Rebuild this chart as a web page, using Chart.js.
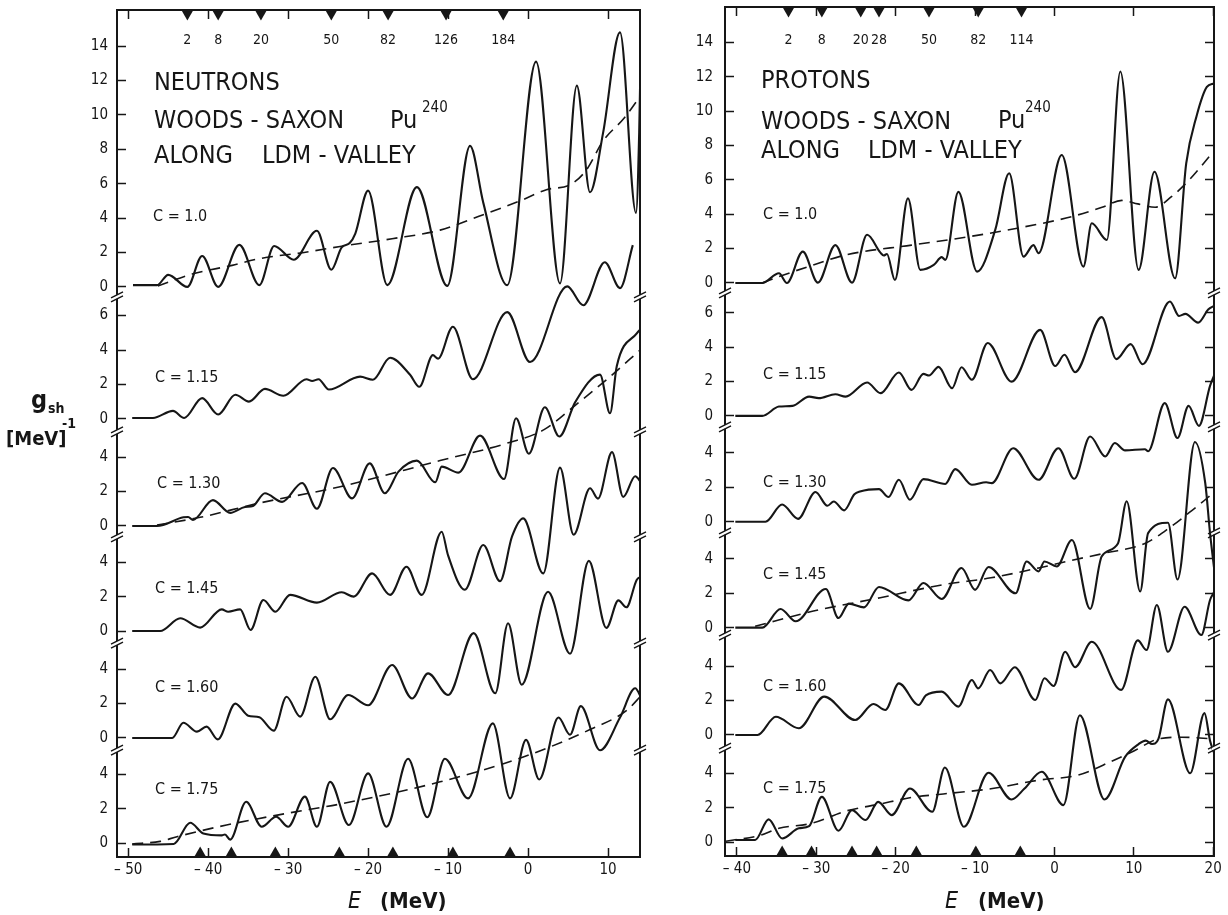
<!DOCTYPE html>
<html>
<head>
<meta charset="utf-8">
<script src="https://cdn.jsdelivr.net/npm/chart.js@4.4.1/dist/chart.umd.min.js"></script>
<style>
  html, body { margin: 0; padding: 0; background: #fff; }
  #wrap { position: relative; width: 1228px; height: 915px; overflow: hidden; }
  .panel { position: absolute; top: 0; }
  #left { left: 0; }
  #right { left: 660px; }
</style>
</head>
<body>
<div id="wrap">
  <div class="panel" id="left"><canvas id="neutronChart" width="660" height="915"></canvas></div>
  <div class="panel" id="right"><canvas id="protonChart" width="568" height="915"></canvas></div>
</div>
<script>
const ink = '#161616';
const FONT = '"DejaVu Sans Condensed", "DejaVu Sans", sans-serif';

// tick values of the g_sh axis blocks
const gTicksTop = [0, 2, 4, 6, 8, 10, 12, 14];
const gTicks115 = [0, 2, 4, 6];
const gTicksLow = [0, 2, 4];

// ---------- neutrons ----------
const nTicksE = [-50, -40, -30, -20, -10, 0, 10];
const nMagic = ['2', '8', '20', '50', '82', '126', '184'];
const nMagicTopE = [-42.6, -38.75, -33.4, -24.6, -17.5, -10.25, -3.1];
const nMagicBotE = [-41, -37.1, -31.6, -23.6, -16.9, -9.4, -2.25];

// [E (MeV), g_sh]
const n100 = [[-49.4,0.1],[-46.4,0.1],[-45,0.7],[-42.6,0],[-40.75,1.8],[-38.75,0],[-36.1,2.44],[-33.6,0.1],
  [-31.75,2.38],[-29.3,1.58],[-26.4,3.26],[-24.6,1.0],[-23.3,2.3],[-22.3,2.55],[-21.6,3.1],[-20,5.6],[-17.6,0.1],
  [-13.9,5.8],[-10.1,0.06],[-7.25,8.2],[-5.6,4.9],[-2.6,0.1],[1.0,13.1],[4,0.2],[6.1,11.7],[7.75,5.5],[9.4,9.0],
  [11.5,14.8],[13.5,4.3],[13.9,9],[14.2,16.5]];
const n100dash = [[-46.3,0.05],[-42,0.75],[-37,1.25],[-33.5,1.65],[-28,2.0],[-23.5,2.35],[-17,2.8],[-11,3.3],
  [-5.6,4.2],[-1,5.0],[2.3,5.65],[5.3,5.95],[7.3,6.8],[9.4,8.5],[12,9.8],[14.2,11.2]];
const n115 = [[-49.5,0.05],[-46.9,0.05],[-44.4,0.46],[-43,0.05],[-40.75,1.2],[-38.75,0.25],[-36.6,1.4],[-34.9,1.0],
  [-32.9,1.74],[-30.6,1.34],[-27.7,2.3],[-27.0,2.2],[-26.2,2.3],[-24.9,1.7],[-21,2.45],[-19.4,2.27],[-17.25,3.55],
  [-14.75,2.56],[-13.6,1.86],[-11.9,3.7],[-11.25,3.5],[-9.4,5.35],[-6.9,2.3],[-2.6,6.2],[0.25,3.3],[4.9,7.7],
  [6.9,6.6],[9.6,9.1],[11.5,7.6],[13.1,10.1]];
const n130 = [[-49.5,0],[-46.4,0],[-43.1,0.5],[-42.5,0.52],[-41.9,0.35],[-39.4,1.5],[-37.25,0.76],[-35.4,1.1],
  [-34.4,1.16],[-32.9,1.9],[-30.75,1.4],[-28.25,2.5],[-26.4,1.0],[-24.4,3.37],[-22,1.6],[-19.8,3.64],[-17.9,1.9],
  [-16.2,3.16],[-13.9,3.8],[-11.6,2.54],[-10.8,3.45],[-8.7,3.1],[-6.0,5.25],[-3.0,2.73],[-1.5,6.26],[0.1,4.2],
  [2.1,6.9],[3.9,5.2],[5.9,7.2],[9.0,8.8],[10.25,6.55],[11.1,9.3],[13.6,11.2],[14.2,11.5]];
const n130dash = [[-46.4,0.05],[-41,0.5],[-33.5,1.34],[-23.5,2.28],[-11,3.8],[-2.7,4.8],[2,5.6],[5.6,6.9],
  [9.8,8.5],[14.2,10.3]];
const n145 = [[-49.5,0],[-46,0],[-43.5,0.74],[-41,0.2],[-38.3,1.26],[-37.5,1.12],[-36,1.26],[-34.7,0.06],[-33.1,1.8],
  [-31.6,1.12],[-29.75,2.1],[-26.4,1.65],[-23.3,2.25],[-21.8,2.0],[-19.5,3.35],[-17.25,2.1],[-15.2,3.74],[-13.3,2.1],
  [-10.8,5.77],[-10,4.4],[-7.9,2.4],[-5.6,5.0],[-3.5,2.9],[-2,5.5],[-0.6,6.55],[1.9,3.35],[4,9.5],[5.7,5.6],
  [7.75,8.3],[8.75,7.7],[10.5,10.4],[11.9,7.8],[13.4,9.0],[14.2,8.6]];
const n160 = [[-49.5,0],[-44.5,0],[-43.1,0.89],[-41.4,0.37],[-40.2,0.66],[-38.8,-0.08],[-36.6,2.0],[-35.0,1.3],
  [-33.6,1.2],[-31.8,0.43],[-30.2,2.4],[-28.5,1.24],[-26.6,3.56],[-24.75,1.09],[-22.5,2.5],[-20,1.9],[-17,4.24],
  [-14.5,2.3],[-12.5,3.76],[-10,2.5],[-6.8,6.1],[-4.1,2.6],[-2.5,6.67],[-0.8,3.1],[2.5,8.5],[5.25,4.9],[7.6,10.3],
  [9.8,6.4],[11.3,8.0],[12.3,7.6],[13.6,9.2],[14.2,9.4]];
const n175 = [[-49.5,-0.08],[-44.3,-0.05],[-42.25,1.18],[-40.6,0.56],[-38.3,0.45],[-37.9,0.5],[-37.25,0.2],
  [-35.25,2.4],[-33.3,0.95],[-31.5,1.53],[-30,0.95],[-27.9,2.7],[-26.4,0.95],[-24.75,3.56],[-22.4,1.05],[-20,4.05],
  [-17.7,0.95],[-15,4.9],[-12.6,1.5],[-10.4,4.9],[-7.5,2.6],[-4.4,6.96],[-2.25,2.6],[-0.25,6.0],[1.4,3.7],[3.8,7.3],
  [5.25,6.3],[6.6,7.96],[9,5.4],[11.5,7.3],[13.4,9.0],[14.2,8.4]];
const n175dash = [[-49.5,-0.05],[-46,0.1],[-43.9,0.37],[-37.7,1.05],[-29.3,1.8],[-23.5,2.27],[-11,3.56],[-0.6,5.0],
  [7.75,6.6],[12.3,7.7],[14.2,8.6]];

// ---------- protons ----------
const pTicksE = [-40, -30, -20, -10, 0, 10, 20];
const pMagic = ['2', '8', '20', '28', '50', '82', '114'];
const pMagicTopE = [-33.5, -29.3, -24.4, -22.1, -15.8, -9.6, -4.15];
const pMagicBotE = [-34.3, -30.6, -25.5, -22.4, -17.4, -9.9, -4.3];

const p100 = [[-40.2,0],[-36.8,0],[-34.7,0.56],[-33.7,0],[-31.7,1.82],[-29.8,0.02],[-27.6,2.2],[-25.5,0.02],
  [-23.6,2.8],[-21.9,1.75],[-21.5,1.6],[-21.1,1.68],[-20.1,0.17],[-18.45,4.92],[-16.9,0.76],[-15.2,1.05],[-14.2,1.5],
  [-13.75,1.34],[-12.1,5.3],[-9.75,0.66],[-7.45,3.1],[-5.7,6.38],[-3.9,1.53],[-2.64,2.2],[-2.0,1.73],[0.92,7.44],
  [3.65,0.95],[4.7,3.47],[6.6,2.5],[8.3,12.3],[10.6,0.76],[12.6,6.47],[15.2,0.27],[16.6,6.96],[17.9,9.7],
  [19.2,11.4],[20.1,11.6]];
const p100dash = [[-36.8,0],[-34.7,0.37],[-30,1.1],[-26.3,1.63],[-18,2.2],[-12,2.6],[-4.5,3.2],[2.2,3.86],[6,4.4],
  [8.5,4.8],[10.5,4.6],[12.7,4.4],[14.7,5.0],[17,6.0],[19.4,7.3],[20.1,7.7]];
const p115 = [[-40.2,0],[-36.8,0],[-34.7,0.54],[-33,0.58],[-30.9,1.12],[-29.7,1.03],[-27.6,1.26],[-26.3,1.12],
  [-23.6,1.94],[-21.9,1.32],[-19.6,2.52],[-18,1.51],[-16.5,2.44],[-15.8,2.35],[-14.6,2.85],[-12.9,1.61],[-11.7,2.83],
  [-10.4,2.1],[-8.4,4.24],[-5.4,1.99],[-1.8,5.0],[0.1,2.9],[1.26,3.55],[2.6,2.54],[5.95,5.74],[7.8,3.3],[9.6,4.17],
  [11.1,3.0],[14.55,6.65],[15.7,5.81],[16.5,5.93],[18.1,5.42],[19.4,6.2],[20.1,6.4]];
const p130 = [[-40.2,0],[-36.4,0],[-34.3,1.0],[-32.3,0.17],[-30.1,1.73],[-28.6,0.93],[-27.8,1.18],[-26.5,0.66],
  [-25.2,1.6],[-24.5,1.76],[-22.1,1.9],[-20.9,1.44],[-19.6,2.44],[-18.2,1.28],[-16.5,2.48],[-13.75,2.2],[-12.5,3.06],
  [-10.4,2.15],[-8.6,2.3],[-7.9,2.25],[-5.2,4.28],[-2.0,2.44],[0.5,4.28],[2.5,2.5],[4.5,4.96],[6.4,3.8],[7.6,4.58],
  [8.9,4.15],[11.4,4.22],[11.8,4.1],[13.9,6.9],[15.5,4.87],[16.9,6.74],[18.2,5.58],[19.6,7.9],[20.1,8.5]];
const p145 = [[-40.2,0],[-36.8,0],[-34.5,1.09],[-32.6,0.37],[-28.8,2.25],[-27.2,0.56],[-25.9,1.4],[-24,1.18],
  [-22.1,2.37],[-18.4,1.59],[-16.5,2.6],[-14.2,1.67],[-11.7,3.47],[-10,2.2],[-8.3,3.53],[-4.9,2.0],[-3.5,3.85],
  [-2,3.27],[-1.26,3.85],[0.3,3.56],[2.2,5.1],[4.5,1.09],[5.95,4.14],[8,4.9],[9.1,7.35],[10.8,2.1],[11.8,5.5],
  [14.3,6.1],[15.5,2.8],[17.7,10.8],[19,8.4],[19.6,5.5],[20.1,3.5]];
const p145dash = [[-37.7,0.08],[-30.5,0.95],[-22.1,1.73],[-14,2.5],[-8,2.9],[-2,3.47],[2,3.9],[6.4,4.34],
  [11.4,4.9],[14.75,5.9],[17,6.7],[19.4,7.6],[20.1,7.9]];
const p160 = [[-40.2,0],[-37.4,0],[-35.1,1.06],[-32.2,0.39],[-29,2.23],[-25.1,0.87],[-22.8,1.8],[-21.3,1.45],
  [-19.6,3.0],[-17.1,1.74],[-16.2,2.3],[-14.2,2.52],[-12.1,1.65],[-10.4,3.2],[-9.6,2.71],[-8.1,3.78],[-6.8,3.0],
  [-5.0,3.94],[-2.4,2.03],[-1.26,3.3],[-0.1,2.85],[1.35,4.84],[2.6,3.94],[4.7,5.42],[8.4,2.62],[10.5,5.5],
  [11.6,4.94],[12.9,7.56],[14.3,4.84],[16.4,7.46],[18.5,5.81],[19.6,7.85],[20.1,8.3]];
const p175 = [[-40.2,0.12],[-37.7,0.12],[-36,1.32],[-34.3,0.21],[-32.2,0.8],[-30.9,0.93],[-29.3,2.63],[-27.2,0.66],
  [-25.5,1.86],[-23.8,1.28],[-22.2,2.34],[-20.5,1.57],[-18.2,3.12],[-15.4,1.76],[-13.8,4.34],[-11.4,0.89],[-8.3,4.03],
  [-5.4,2.48],[-3.8,3.1],[-1.6,4.09],[1.13,2.15],[3.2,7.38],[6.3,2.48],[8.9,4.96],[10.6,5.7],[11.5,5.9],[12.3,5.7],
  [13.1,6.0],[14.3,8.3],[17.1,4.0],[18.9,7.5],[19.6,5.9],[20.1,5.2]];
const p175dash = [[-41.4,0.05],[-37,0.4],[-34.7,0.8],[-30.5,1.1],[-26.3,1.8],[-22.1,2.2],[-17.9,2.6],[-14,2.8],
  [-8,3.1],[-2,3.6],[3,3.9],[7.2,4.7],[10,5.3],[13.1,6.0],[16,6.1],[20.1,6.0]];

// one block per deformation C, stacked top to bottom
function blocks(ranges) {
  const tickSets = [gTicksTop, gTicks115, gTicksLow, gTicksLow, gTicksLow, gTicksLow];
  return ranges.map((r, k) => ({ min: r[0], max: r[1], ticks: tickSets[k] }));
}

// curves may run over into the neighbouring blocks, so clip to the whole frame only
const frameClip = {
  id: 'frameClip',
  beforeDatasetsDraw(chart) {
    const a = chart.chartArea;
    chart.ctx.save();
    chart.ctx.beginPath();
    chart.ctx.rect(a.left, a.top, a.right - a.left, a.bottom - a.top);
    chart.ctx.clip();
  },
  afterDatasetsDraw(chart) {
    chart.ctx.restore();
  }
};

function makeAnnotator(p) {
  return {
    id: 'annotate',
    afterDraw(chart) {
      const ctx = chart.ctx;
      const xs = chart.scales.x;
      const area = chart.chartArea;
      ctx.save();
      ctx.fillStyle = ink;
      ctx.textBaseline = 'alphabetic';
      p.texts.forEach(t => {
        ctx.font = (t.italic ? 'italic ' : '') + (t.bold ? 'bold ' : '') + t.size + 'px ' + FONT;
        ctx.textAlign = 'left';
        ctx.fillText(t.s, t.x, t.y);
      });
      // shell closure numbers under the top markers
      ctx.font = '14px ' + FONT;
      ctx.textAlign = 'center';
      ctx.textBaseline = 'middle';
      p.magic.forEach((m, i) => ctx.fillText(m, xs.getPixelForValue(p.magicTopE[i]), 40));
      // axis breaks
      ctx.strokeStyle = ink;
      ctx.lineWidth = 1.4;
      for (let k = 0; k < p.blocks.length - 1; k++) {
        const y = chart.scales['yl' + k].bottom;
        [area.left, area.right].forEach(x => {
          ctx.fillStyle = '#fff';
          ctx.fillRect(x - 2, y - 2, 4, 4);
          ctx.beginPath();
          ctx.moveTo(x - 6, y + 1); ctx.lineTo(x + 6, y - 5);
          ctx.moveTo(x - 6, y + 5); ctx.lineTo(x + 6, y - 1);
          ctx.stroke();
        });
      }
      ctx.restore();
    }
  };
}

function makePanel(p) {
  const tickGrid = { drawOnChartArea: false, tickLength: -9, tickColor: ink, tickWidth: 1.5 };
  const scales = {
    x: {
      type: 'linear', position: 'bottom', min: p.xMin, max: p.xMax,
      afterBuildTicks: ax => { ax.ticks = p.xTicks.map(v => ({ value: v })); },
      afterFit: ax => { ax.height = 915 - p.bottom; ax.paddingLeft = 0; ax.paddingRight = 0; },
      grid: tickGrid,
      border: { color: ink, width: 2 },
      ticks: {
        padding: 13, color: ink, maxRotation: 0, autoSkip: false,
        font: { family: FONT, size: 15 },
        callback: v => v < 0 ? '\u2013 ' + Math.abs(v) : String(v)
      }
    },
    xt: {
      type: 'linear', position: 'top', min: p.xMin, max: p.xMax,
      afterBuildTicks: ax => { ax.ticks = p.xTicks.map(v => ({ value: v })); },
      afterFit: ax => { ax.height = 0; ax.paddingLeft = 0; ax.paddingRight = 0; },
      grid: tickGrid,
      border: { color: ink, width: 2 },
      ticks: { display: false }
    }
  };
  p.blocks.forEach((b, k) => {
    const common = {
      type: 'linear', min: b.min, max: b.max, stackWeight: b.max - b.min,
      afterBuildTicks: ax => { ax.ticks = b.ticks.map(v => ({ value: v })); },
      border: { color: ink, width: 2 }
    };
    scales['yl' + k] = Object.assign({}, common, {
      position: 'left', stack: 'left', weight: p.blocks.length - k,
      afterFit: ax => { ax.width = p.left; ax.paddingTop = 0; ax.paddingBottom = 0; },
      grid: tickGrid,
      ticks: { padding: p.yPad, color: ink, font: { family: FONT, size: 15 } }
    });
    scales['yr' + k] = Object.assign({}, common, {
      position: 'right', stack: 'right', weight: k,
      afterFit: ax => { ax.width = 0; ax.paddingTop = 0; ax.paddingBottom = 0; },
      grid: Object.assign({}, tickGrid, { drawTicks: p.rightTicks }),
      ticks: { display: false }
    });
  });

  const datasets = p.curves.map(c => ({
    data: c.pts.map(([x, y]) => ({ x, y })),
    xAxisID: 'x', yAxisID: 'yl' + c.block,
    borderColor: ink,
    borderWidth: c.dashed ? 1.6 : 2.1,
    borderDash: c.dashed ? [11, 7] : [],
    pointRadius: 0,
    cubicInterpolationMode: 'monotone',
    fill: false,
    clip: false
  }));
  const top = p.blocks[0], last = p.blocks[p.blocks.length - 1];
  datasets.push({
    data: p.magicTopE.map(e => ({ x: e, y: top.max - 0.2 })),
    xAxisID: 'x', yAxisID: 'yl0', showLine: false,
    pointStyle: 'triangle', pointRadius: 7, pointRotation: 180,
    pointBackgroundColor: ink, pointBorderWidth: 0, clip: false
  });
  datasets.push({
    data: p.magicBotE.map(e => ({ x: e, y: last.min + 0.2 })),
    xAxisID: 'x', yAxisID: 'yl' + (p.blocks.length - 1), showLine: false,
    pointStyle: 'triangle', pointRadius: 7, pointRotation: 0,
    pointBackgroundColor: ink, pointBorderWidth: 0, clip: false
  });

  return new Chart(document.getElementById(p.canvas), {
    type: 'line',
    data: { datasets },
    options: {
      responsive: false,
      devicePixelRatio: 1,
      animation: false,
      events: [],
      layout: { padding: { left: 0, right: p.padR, top: p.top, bottom: 0 } },
      plugins: { legend: { display: false }, tooltip: { enabled: false } },
      scales
    },
    plugins: [frameClip, makeAnnotator(p)]
  });
}

const nBlocks = blocks([[-0.58, 16.1], [-0.76, 7.09], [-0.64, 5.47], [-0.70, 5.47], [-0.70, 5.52], [-0.81, 5.41]]);
const pBlocks = blocks([[-0.58, 16.05], [-0.64, 7.15], [-0.64, 5.52], [-0.43, 5.52], [-0.76, 5.81], [-0.81, 5.47]]);

makePanel({
  canvas: 'neutronChart', xMin: -51.4, xMax: 14.0, xTicks: nTicksE,
  left: 117, padR: 20, top: 10, bottom: 857, yPad: 18, rightTicks: false,
  blocks: nBlocks,
  curves: [
    { pts: n100, block: 0 }, { pts: n100dash, block: 0, dashed: true },
    { pts: n115, block: 1 },
    { pts: n130, block: 2 }, { pts: n130dash, block: 2, dashed: true },
    { pts: n145, block: 3 },
    { pts: n160, block: 4 },
    { pts: n175, block: 5 }, { pts: n175dash, block: 5, dashed: true }
  ],
  magic: nMagic, magicTopE: nMagicTopE, magicBotE: nMagicBotE,
  texts: [
    { s: 'NEUTRONS', x: 154, y: 90, size: 25 },
    { s: 'WOODS - SAXON', x: 154, y: 128, size: 25 },
    { s: 'Pu', x: 390, y: 128, size: 25 },
    { s: '240', x: 422, y: 112, size: 15 },
    { s: 'ALONG', x: 154, y: 163, size: 25 },
    { s: 'LDM - VALLEY', x: 262, y: 163, size: 25 },
    { s: 'C = 1.0', x: 153, y: 221, size: 16 },
    { s: 'C = 1.15', x: 155, y: 382, size: 16 },
    { s: 'C = 1.30', x: 157, y: 488, size: 16 },
    { s: 'C = 1.45', x: 155, y: 593, size: 16 },
    { s: 'C = 1.60', x: 155, y: 692, size: 16 },
    { s: 'C = 1.75', x: 155, y: 794, size: 16 },
    { s: 'E', x: 348, y: 908, size: 23, italic: true },
    { s: '(MeV)', x: 380, y: 908, size: 22, bold: true },
    { s: 'g', x: 31, y: 408, size: 25, bold: true },
    { s: 'sh', x: 48, y: 413, size: 14, bold: true },
    { s: '[MeV]', x: 6, y: 445, size: 20, bold: true },
    { s: '-1', x: 62, y: 428, size: 14, bold: true }
  ]
});

makePanel({
  canvas: 'protonChart', xMin: -41.5, xMax: 20.1, xTicks: pTicksE,
  left: 65, padR: 14, top: 7, bottom: 856, yPad: 21, rightTicks: true,
  blocks: pBlocks,
  curves: [
    { pts: p100, block: 0 }, { pts: p100dash, block: 0, dashed: true },
    { pts: p115, block: 1 },
    { pts: p130, block: 2 },
    { pts: p145, block: 3 }, { pts: p145dash, block: 3, dashed: true },
    { pts: p160, block: 4 },
    { pts: p175, block: 5 }, { pts: p175dash, block: 5, dashed: true }
  ],
  magic: pMagic, magicTopE: pMagicTopE, magicBotE: pMagicBotE,
  texts: [
    { s: 'PROTONS', x: 101, y: 88, size: 25 },
    { s: 'WOODS - SAXON', x: 101, y: 129, size: 25 },
    { s: 'Pu', x: 338, y: 128, size: 25 },
    { s: '240', x: 365, y: 112, size: 15 },
    { s: 'ALONG', x: 101, y: 158, size: 25 },
    { s: 'LDM - VALLEY', x: 208, y: 158, size: 25 },
    { s: 'C = 1.0', x: 103, y: 219, size: 16 },
    { s: 'C = 1.15', x: 103, y: 379, size: 16 },
    { s: 'C = 1.30', x: 103, y: 487, size: 16 },
    { s: 'C = 1.45', x: 103, y: 579, size: 16 },
    { s: 'C = 1.60', x: 103, y: 691, size: 16 },
    { s: 'C = 1.75', x: 103, y: 793, size: 16 },
    { s: 'E', x: 285, y: 908, size: 23, italic: true },
    { s: '(MeV)', x: 318, y: 908, size: 22, bold: true }
  ]
});
</script>
</body>
</html>
